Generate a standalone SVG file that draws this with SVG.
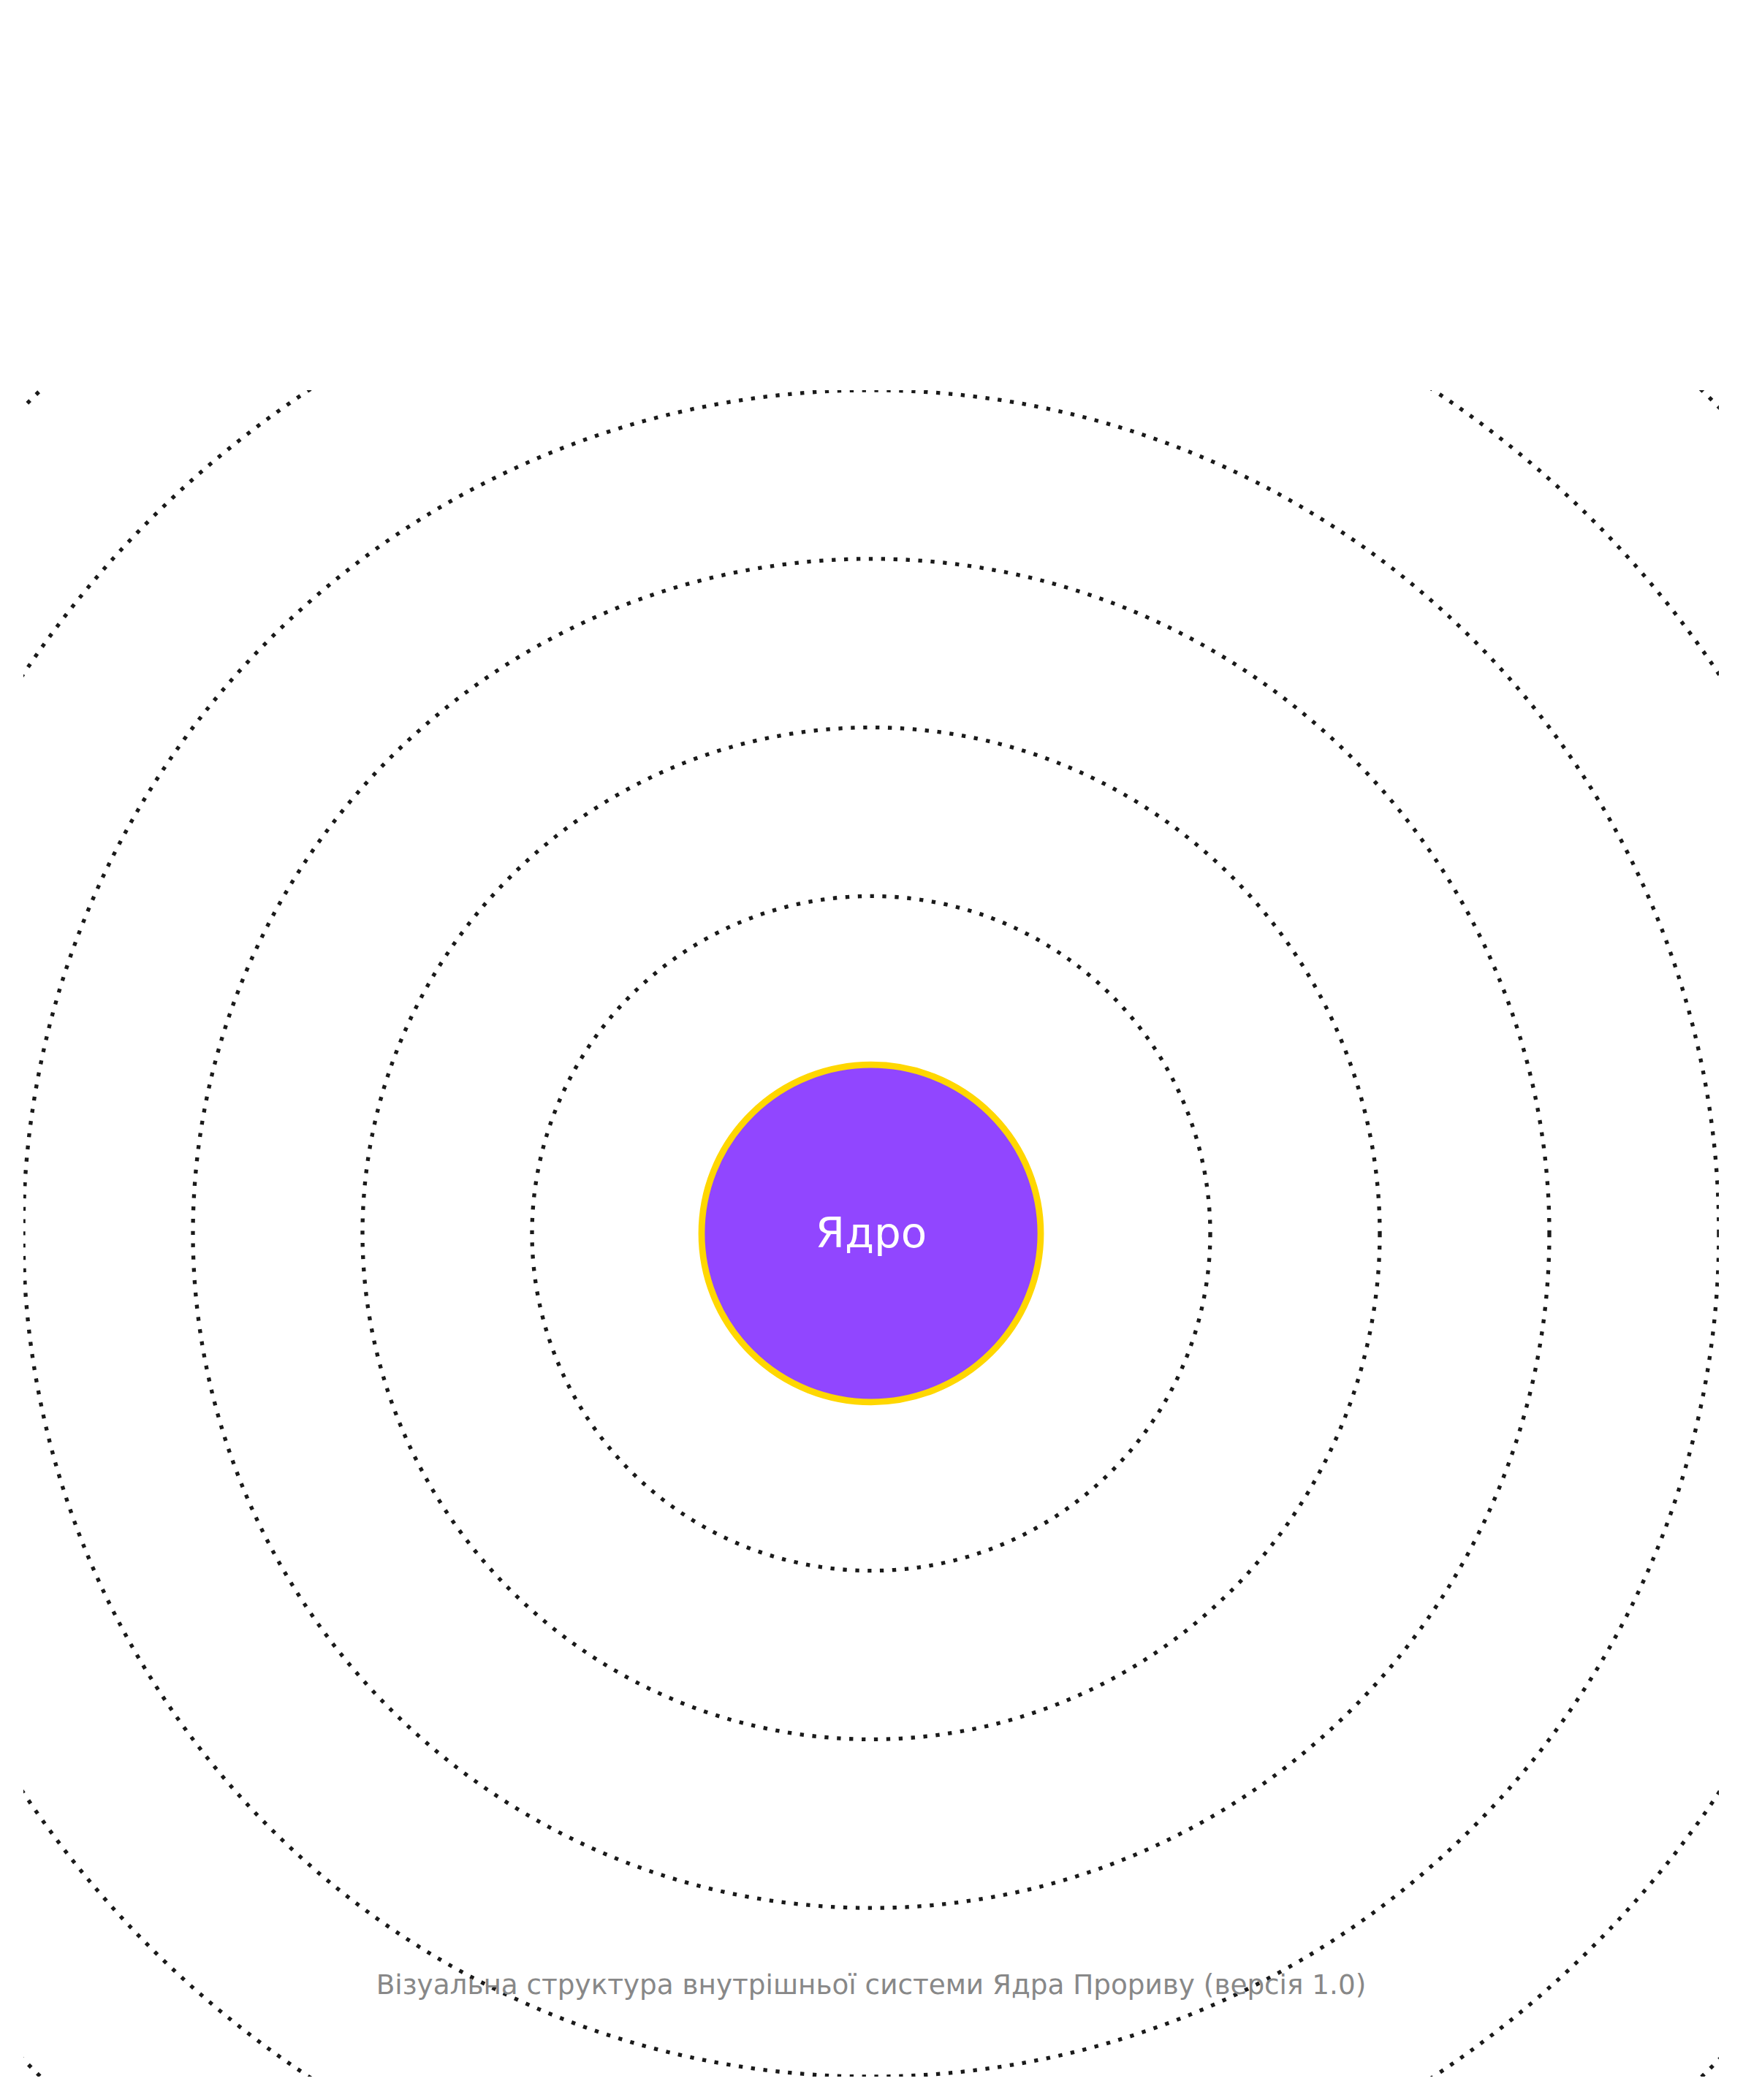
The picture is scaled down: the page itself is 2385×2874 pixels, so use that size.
<svg xmlns="http://www.w3.org/2000/svg" width="2385" height="2874" viewBox="0 0 2385 2874">
  <style>
    .ring { fill: none; stroke: #1a1a1a; stroke-width: 2.3; stroke-dasharray: 2.3 5; }
    .core { fill: #9146FF; stroke: #FFD700; stroke-width: 3.8; }
    .core-label { font-family: "DejaVu Sans", "Noto Sans", sans-serif; font-size: 25px; fill: #FFFFFF; text-anchor: middle; }
    .footer { font-family: "DejaVu Sans", "Noto Sans", sans-serif; font-size: 16.1px; fill: #888888; text-anchor: middle; }
  </style>
  <rect x="0" y="0" width="2385" height="2874" fill="#FFFFFF"/>
  <svg x="32" y="534" width="2320" height="2308" viewBox="0 0 1000 1000" preserveAspectRatio="none" overflow="hidden">
    <g id="rings">
      <circle class="ring" cx="500" cy="500" r="200"/>
      <circle class="ring" cx="500" cy="500" r="300"/>
      <circle class="ring" cx="500" cy="500" r="400"/>
      <circle class="ring" cx="500" cy="500" r="500"/>
      <circle class="ring" cx="500" cy="500" r="600"/>
      <circle class="ring" cx="500" cy="500" r="700"/>
    </g>
    <g id="connectors"/>
    <g id="core">
      <circle class="core" cx="500" cy="500" r="100"/>
      <text class="core-label" x="500" y="508.3">Ядро</text>
    </g>
    <g id="footer">
      <text class="footer" x="500" y="951">Візуальна структура внутрішньої системи Ядра Прориву (версія 1.0)</text>
    </g>
  </svg>
</svg>
